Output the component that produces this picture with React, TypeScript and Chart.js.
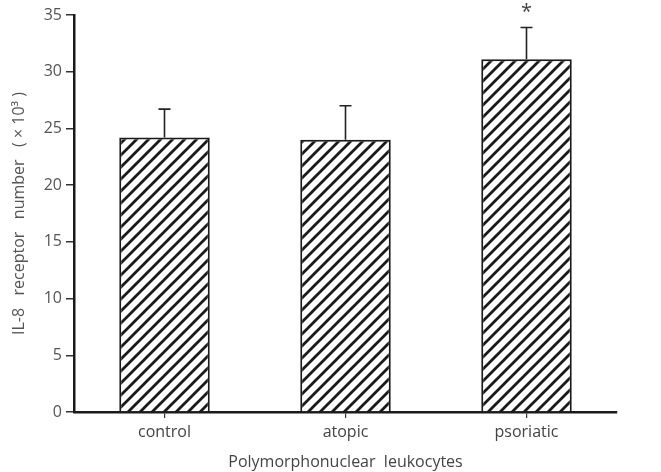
import React, { useEffect, useRef } from "react";
import { Chart, registerables } from "chart.js";

Chart.register(...registerables);

const categories = ["control", "atopic", "psoriatic"];
const values = [24.2, 24.0, 31.1];
const errors = [2.5, 3.0, 2.8];
const significance = ["", "", "*"];
const yTicks = [0, 5, 10, 15, 20, 25, 30, 35];

function makeHatch(): CanvasPattern | string {
  const s = 12;
  const c = document.createElement("canvas");
  c.width = s;
  c.height = s;
  const ctx = c.getContext("2d");
  if (!ctx) return "#fff";
  ctx.fillStyle = "#ffffff";
  ctx.fillRect(0, 0, s, s);
  ctx.strokeStyle = "#1a1a1a";
  ctx.lineWidth = 2.8;
  ctx.lineCap = "square";
  ctx.beginPath();
  ctx.moveTo(-2, s + 2);
  ctx.lineTo(s + 2, -2);
  ctx.moveTo(-2, 2);
  ctx.lineTo(2, -2);
  ctx.moveTo(s - 2, s + 2);
  ctx.lineTo(s + 2, s - 2);
  ctx.stroke();
  const p = ctx.createPattern(c, "repeat");
  return p || "#fff";
}

const errorBarPlugin = {
  id: "errorBars",
  afterDatasetsDraw(chart: any) {
    const ctx = chart.ctx;
    const meta = chart.getDatasetMeta(0);
    const y = chart.scales.y;
    ctx.save();
    ctx.strokeStyle = "#222";
    ctx.lineWidth = 1.6;
    meta.data.forEach((bar: any, i: number) => {
      const top = y.getPixelForValue(values[i] + errors[i]);
      const base = y.getPixelForValue(values[i]);
      ctx.beginPath();
      ctx.moveTo(bar.x, base);
      ctx.lineTo(bar.x, top);
      ctx.moveTo(bar.x - 6, top);
      ctx.lineTo(bar.x + 6, top);
      ctx.stroke();
      if (significance[i]) {
        ctx.fillStyle = "#444";
        ctx.font = "20px 'Open Sans', sans-serif";
        ctx.textAlign = "center";
        ctx.textBaseline = "middle";
        ctx.fillText(significance[i], bar.x, top - 15);
      }
    });
    ctx.restore();
  },
};

export default function App() {
  const ref = useRef<HTMLCanvasElement>(null);
  useEffect(() => {
    document.body.style.margin = "0";
    if (!ref.current) return;
    const chart = new Chart(ref.current, {
      type: "bar",
      data: {
        labels: categories,
        datasets: [
          {
            data: values,
            backgroundColor: makeHatch() as any,
            borderColor: "#1a1a1a",
            borderWidth: 2,
            barPercentage: 0.5,
            categoryPercentage: 1,
          },
        ],
      },
      options: {
        animation: false,
        responsive: false,
        layout: { padding: { top: 15, right: 44, left: 0, bottom: 0 } },
        plugins: { legend: { display: false }, tooltip: { enabled: false } },
        scales: {
          x: {
            offset: true,
            grid: {
              offset: false,
              drawOnChartArea: false,
              drawTicks: true,
              tickLength: 6,
              color: "#333",
              lineWidth: 1.2,
            },
            border: { display: true, color: "#1a1a1a", width: 2.5 },
            ticks: {
              color: "#444",
              padding: 5,
              font: { family: "'Open Sans', sans-serif", size: 16 },
            },
            title: {
              display: true,
              text: "Polymorphonuclear  leukocytes",
              color: "#444",
              font: { family: "'Open Sans', sans-serif", size: 16 },
              padding: { top: 4, bottom: 0 },
            },
            afterFit(scale: any) {
              scale.height = 60;
            },
          },
          y: {
            min: 0,
            max: 35,
            afterBuildTicks(scale: any) {
              scale.ticks = yTicks.map((v) => ({ value: v }));
            },
            grid: {
              drawOnChartArea: false,
              drawTicks: true,
              tickLength: 8,
              color: "#333",
              lineWidth: 1.5,
            },
            border: { display: true, color: "#1a1a1a", width: 2.5 },
            ticks: {
              color: "#555",
              padding: 4,
              font: { family: "'Open Sans', sans-serif", size: 16 },
            },
            title: {
              display: true,
              text: "IL-8   receptor   number   ( × 10³ )",
              color: "#555",
              font: { family: "'Open Sans', sans-serif", size: 16 },
              padding: { top: 10, bottom: 8 },
            },
            afterFit(scale: any) {
              scale.width = 74;
            },
          },
        },
      },
      plugins: [errorBarPlugin],
    });
    return () => chart.destroy();
  }, []);
  return (
    <div style={{ width: 661, height: 472, background: "#fff" }}>
      <canvas ref={ref} width={661} height={472} />
    </div>
  );
}
